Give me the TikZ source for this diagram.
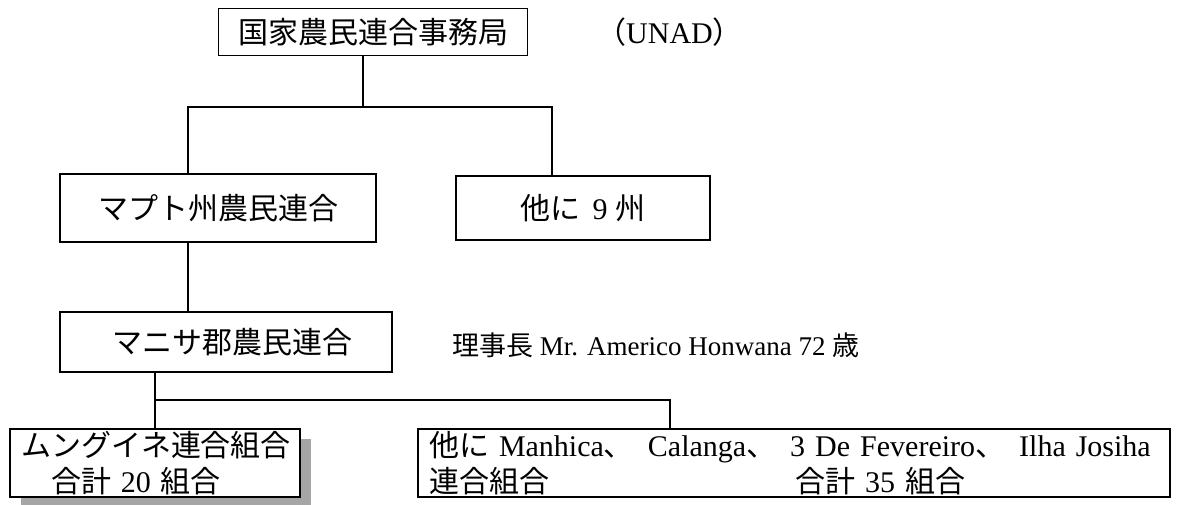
\documentclass[tikz,border=0pt]{standalone}
\usepackage{fontspec}
\setmainfont{Liberation Serif}
\newfontfamily\cjk{Noto Sans CJK JP}
\usetikzlibrary{shadows}
\newcommand{\jp}[1]{{\cjk #1}}

\begin{document}
\begin{tikzpicture}[x=1pt, y=-1pt,
  orgbox/.style={draw, line width=1.8pt, inner sep=0pt, font=\fontsize{30}{36}\selectfont},
  link/.style={line width=1.8pt},
  plain/.style={font=\fontsize{27}{34}\selectfont, inner sep=0pt}]
  % page frame
  \useasboundingbox (0,0) rectangle (1181,504);

  % national level
  \node[orgbox, minimum width=309pt, minimum height=47pt] (hq) at (373,32) {\jp{国家農民連合事務局}};
  \node[plain, font=\fontsize{30}{36}\selectfont, anchor=west] (unad) at (596,32) {\jp{（}UNAD\jp{）}};

  % province level
  \node[orgbox, minimum width=316pt, minimum height=68pt] (maputo) at (218,208) {\jp{マプト州農民連合}};
  \node[orgbox, minimum width=254pt, minimum height=64pt] (nine) at (583,208) {\jp{他に}\hspace{12pt}9\hspace{8pt}\jp{州}\hspace{20pt}};

  % district level
  \node[orgbox, minimum width=332pt, minimum height=60pt] (manhica) at (226,342) {\hspace{12pt}\jp{マニサ郡農民連合}};
  \node[plain, anchor=west] (chair) at (452,345) {\jp{理事長} Mr. Americo Honwana 72 \jp{歳}};

  % unions
  \node[orgbox, fill=white, minimum width=290pt, minimum height=68pt, align=left, text width=268pt,
        drop shadow={shadow xshift=11pt, shadow yshift=-10pt, fill=gray!70, opacity=1}]
    (mungu) at (155,463) {\jp{ムングイネ連合組合}\\\jp{　合計} 20 \jp{組合}};
  \node[orgbox, minimum width=752pt, minimum height=68pt, align=left, text width=730pt]
    (others) at (794,463) {\jp{他に} Manhica\jp{、}\hspace{14pt}Calanga\jp{、}\hspace{14pt}3 De Fevereiro\jp{、}\hspace{14pt}Ilha Josiha\\\jp{連合組合}\hspace{246pt}\jp{合計} 35 \jp{組合}};

  % connectors
  \coordinate (top) at (363,107);
  \coordinate (busA) at (188,107);
  \coordinate (busB) at (552,107);
  \coordinate (low) at (155,400);
  \coordinate (lowB) at (670,400);
  \draw[link] (hq.south -| top) -- (top);
  \draw[link] (maputo.north -| busA) |- (busB) -- (nine.north -| busB);
  \draw[link] (maputo.south -| busA) -- (manhica.north -| busA);
  \draw[link] (manhica.south -| low) -- (mungu.north -| low);
  \draw[link] (low) -| (others.north -| lowB);
\end{tikzpicture}
\end{document}
